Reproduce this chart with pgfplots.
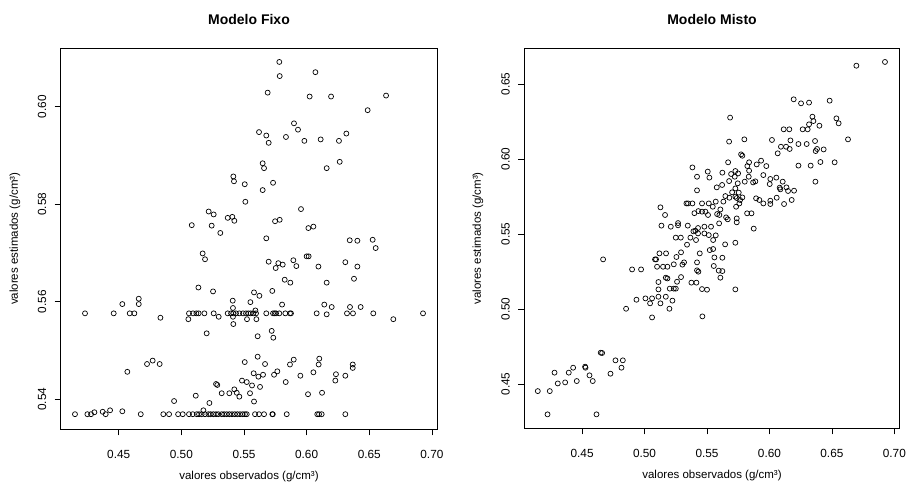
\documentclass[border=0pt]{standalone}
\usepackage{fontspec}
\setmainfont{Liberation Sans}
\usepackage{pgfplots}
\pgfplotsset{compat=1.18}
\pgfplotsset{rstyle/.style={
  scale only axis, anchor=south west,
  axis line style={black, line width=0.7pt},
  tick align=outside, major tick length=6pt,
  tick style={black, line width=0.7pt},
  xtick={0.45,0.50,0.55,0.60,0.65,0.70},
  xticklabels={0.45,0.50,0.55,0.60,0.65,0.70},
  xtick pos=bottom, ytick pos=left,
  tick label style={font=\fontsize{11.8}{13}\selectfont},
  yticklabel style={rotate=90, anchor=south},
  xticklabel shift=11pt, yticklabel shift=5pt,
  label style={font=\fontsize{11.5}{13}\selectfont},
  title style={font=\bfseries\fontsize{14}{16}\selectfont, at={(axis description cs:0.5,1)}, anchor=center, yshift=23pt},
  xlabel={valores observados (g/cm³)},
  ylabel={valores estimados (g/cm³)},
  xlabel style={at={(axis description cs:0.5,-0.125)}, anchor=center},
  xmin=0.4037, xmax=0.7043,
}}
\begin{document}
\begin{tikzpicture}[x=1pt,y=1pt]
\path[use as bounding box, fill=white] (0,0) rectangle (908,488);
\begin{axis}[rstyle, at={(60.7pt,58.7pt)}, width=376.6pt, height=381pt,
  ymin=0.5338, ymax=0.6120,
  ytick={0.54,0.56,0.58,0.60}, yticklabels={0.54,0.56,0.58,0.60},
  ylabel style={at={(axis description cs:-0.1213,0.5)}, rotate=0, anchor=center},
  title={Modelo Fixo}]
\addplot[only marks, mark=o, mark size=2.5pt, mark options={line width=0.7pt, black}] coordinates {
(0.5782,0.6092) (0.5785,0.6063) (0.6070,0.6071) (0.5689,0.6029) (0.6024,0.6021) (0.6195,0.6021) (0.6634,0.6023) (0.6487,0.5993) (0.5899,0.5966) (0.5931,0.5953)
(0.5620,0.5948) (0.5678,0.5941) (0.5697,0.5926) (0.5835,0.5938) (0.5982,0.5930) (0.6112,0.5933) (0.6258,0.5930) (0.6317,0.5945) (0.6264,0.5887) (0.6160,0.5874)
(0.5649,0.5884) (0.5660,0.5874) (0.5415,0.5857) (0.5420,0.5847) (0.5506,0.5841) (0.5732,0.5844) (0.5649,0.5829) (0.5511,0.5805) (0.5955,0.5790) (0.5218,0.5785)
(0.5258,0.5779) (0.5370,0.5772) (0.5407,0.5774) (0.5423,0.5766) (0.5748,0.5765) (0.5785,0.5768) (0.5083,0.5757) (0.5242,0.5756) (0.5311,0.5741) (0.6014,0.5751)
(0.6054,0.5754) (0.5678,0.5730) (0.6344,0.5726) (0.6405,0.5725) (0.6527,0.5727) (0.6551,0.5710) (0.5170,0.5699) (0.5189,0.5687) (0.6000,0.5693) (0.6016,0.5693)
(0.5697,0.5682) (0.5894,0.5685) (0.5774,0.5679) (0.5809,0.5676) (0.5918,0.5673) (0.5753,0.5669) (0.6094,0.5672) (0.6309,0.5681) (0.6405,0.5672) (0.6378,0.5647)
(0.5825,0.5645) (0.5870,0.5639) (0.6160,0.5639) (0.5136,0.5629) (0.5253,0.5621) (0.5580,0.5619) (0.5726,0.5622) (0.5623,0.5612) (0.5551,0.5599) (0.5410,0.5602)
(0.4660,0.5606) (0.4660,0.5595) (0.4529,0.5595) (0.5804,0.5594) (0.6141,0.5594) (0.6200,0.5589) (0.6346,0.5589) (0.6431,0.5589) (0.5591,0.5582) (0.5412,0.5587)
(0.4231,0.5576) (0.4460,0.5576) (0.4588,0.5576) (0.4625,0.5576) (0.5061,0.5576) (0.5093,0.5576) (0.5120,0.5576) (0.5138,0.5576) (0.5184,0.5576) (0.5258,0.5576)
(0.5370,0.5576) (0.5397,0.5576) (0.5415,0.5576) (0.5436,0.5576) (0.5463,0.5576) (0.5492,0.5576) (0.5516,0.5576) (0.5535,0.5576) (0.5553,0.5576) (0.5575,0.5576)
(0.5596,0.5576) (0.5678,0.5576) (0.5732,0.5576) (0.5745,0.5576) (0.5756,0.5576) (0.5782,0.5576) (0.5830,0.5576) (0.5867,0.5576) (0.5875,0.5576) (0.6080,0.5576)
(0.6322,0.5576) (0.6370,0.5576) (0.6532,0.5576) (0.6929,0.5576)
(0.4833,0.5567) (0.5056,0.5564) (0.5298,0.5569) (0.5524,0.5564) (0.5599,0.5564) (0.6692,0.5564) (0.6160,0.5574) (0.5415,0.5554) (0.5412,0.5569)
(0.5202,0.5535) (0.5609,0.5529) (0.5721,0.5540) (0.5734,0.5526)
(0.4726,0.5472) (0.4771,0.5479) (0.4827,0.5472) (0.4569,0.5456) (0.5506,0.5476) (0.5609,0.5487) (0.5668,0.5472) (0.5897,0.5481) (0.5867,0.5471) (0.6101,0.5483)
(0.6096,0.5471) (0.6368,0.5471) (0.6368,0.5464) (0.5766,0.5457) (0.5740,0.5450) (0.5577,0.5453) (0.5615,0.5446) (0.5652,0.5450) (0.5950,0.5448) (0.6054,0.5455)
(0.6234,0.5451) (0.6309,0.5448) (0.6229,0.5438) (0.5484,0.5438) (0.5522,0.5435) (0.5564,0.5428) (0.5628,0.5425) (0.5833,0.5435) (0.5277,0.5431) (0.5287,0.5429)
(0.5322,0.5412) (0.5383,0.5412) (0.5423,0.5420) (0.5442,0.5413) (0.5463,0.5405) (0.5548,0.5412) (0.6123,0.5413) (0.6011,0.5410) (0.5115,0.5407) (0.4942,0.5396)
(0.5224,0.5392) (0.5580,0.5395) (0.5176,0.5377)
(0.4151,0.5369) (0.4250,0.5369) (0.4279,0.5369) (0.4306,0.5373) (0.4372,0.5374) (0.4396,0.5369) (0.4431,0.5377) (0.4529,0.5375) (0.4676,0.5369) (0.4856,0.5369)
(0.4902,0.5369) (0.4974,0.5369) (0.5011,0.5369) (0.5061,0.5369) (0.5091,0.5369) (0.5123,0.5369) (0.5141,0.5369) (0.5162,0.5369) (0.5189,0.5369) (0.5216,0.5369)
(0.5234,0.5369) (0.5256,0.5369) (0.5277,0.5369) (0.5295,0.5369) (0.5322,0.5369) (0.5341,0.5369) (0.5362,0.5369) (0.5383,0.5369) (0.5404,0.5369) (0.5426,0.5369)
(0.5447,0.5369) (0.5468,0.5369) (0.5490,0.5369) (0.5508,0.5369) (0.5522,0.5369) (0.5588,0.5369) (0.5620,0.5369) (0.5660,0.5369) (0.5726,0.5369) (0.5730,0.5369)
(0.5841,0.5369) (0.6085,0.5369) (0.6099,0.5369) (0.6120,0.5369) (0.6309,0.5369)
};
\end{axis}
\begin{axis}[rstyle, at={(524.3pt,59.7pt)}, width=375.4pt, height=380pt,
  ymin=0.4205, ymax=0.6738,
  ytick={0.45,0.50,0.55,0.60,0.65}, yticklabels={0.45,0.50,0.55,0.60,0.65},
  ylabel style={at={(axis description cs:-0.1233,0.5)}, rotate=0, anchor=center},
  title={Modelo Misto}]
\addplot[only marks, mark=o, mark size=2.5pt, mark options={line width=0.7pt, black}] coordinates {
(0.4145,0.4453) (0.4241,0.4453) (0.4223,0.4298) (0.4615,0.4298) (0.4279,0.4576) (0.4305,0.4504) (0.4364,0.4511) (0.4393,0.4576) (0.4428,0.4609) (0.4457,0.4520)
(0.4524,0.4616) (0.4527,0.4609) (0.4559,0.4558) (0.4585,0.4520) (0.4649,0.4709) (0.4660,0.4707) (0.4727,0.4569) (0.4767,0.4658) (0.4826,0.4658) (0.4815,0.4609)
(0.4668,0.5331) (0.4852,0.5002) (0.4900,0.5264) (0.4972,0.5264) (0.4935,0.5062) (0.5007,0.5071) (0.5044,0.5038) (0.5060,0.5071) (0.5060,0.4944) (0.5084,0.5331)
(0.5092,0.5331) (0.5100,0.5282) (0.5111,0.5180) (0.5111,0.5131) (0.5111,0.5082) (0.5119,0.5371) (0.5127,0.5038) (0.5127,0.5678) (0.5135,0.5556) (0.5148,0.5282)
(0.5164,0.5627) (0.5170,0.5082) (0.5172,0.5371) (0.5170,0.5209) (0.5183,0.5282) (0.5183,0.5204) (0.5199,0.5002) (0.5202,0.5136) (0.5210,0.5549) (0.5223,0.5056)
(0.5234,0.5136) (0.5234,0.5298) (0.5250,0.5136) (0.5250,0.5476) (0.5255,0.5347) (0.5260,0.5182) (0.5268,0.5558) (0.5268,0.5573) (0.5290,0.5476) (0.5292,0.5378)
(0.5292,0.5213) (0.5303,0.5296) (0.5316,0.5311) (0.5335,0.5704) (0.5348,0.5704) (0.5340,0.5429) (0.5346,0.5556) (0.5367,0.5476) (0.5375,0.5176) (0.5383,0.5704)
(0.5383,0.5944) (0.5391,0.5518) (0.5399,0.5639) (0.5407,0.5522) (0.5412,0.5460) (0.5415,0.5176) (0.5420,0.5791) (0.5420,0.5882) (0.5420,0.5311) (0.5420,0.5258)
(0.5431,0.5249) (0.5428,0.5540) (0.5428,0.5504) (0.5431,0.5653) (0.5442,0.5371) (0.5460,0.5133) (0.5463,0.4951) (0.5460,0.5649) (0.5460,0.5704) (0.5479,0.5549)
(0.5479,0.5504) (0.5487,0.5649) (0.5500,0.5129) (0.5506,0.5916) (0.5514,0.5704) (0.5508,0.5627) (0.5514,0.5493) (0.5519,0.5876) (0.5522,0.5393) (0.5532,0.5549)
(0.5546,0.5682) (0.5549,0.5460) (0.5549,0.5400) (0.5554,0.5287) (0.5559,0.5344) (0.5570,0.5491) (0.5570,0.5716) (0.5578,0.5811) (0.5581,0.5633) (0.5594,0.5256)
(0.5597,0.5571) (0.5599,0.5627) (0.5607,0.5209) (0.5607,0.5664) (0.5621,0.5827) (0.5623,0.5909) (0.5623,0.5342) (0.5623,0.5253) (0.5631,0.5716) (0.5645,0.5431)
(0.5647,0.5753) (0.5653,0.5611) (0.5666,0.5598) (0.5679,0.5742) (0.5669,0.5978) (0.5677,0.5853) (0.5677,0.6116) (0.5685,0.6276) (0.5693,0.5900) (0.5701,0.5778)
(0.5722,0.5882) (0.5727,0.5442) (0.5727,0.5131) (0.5727,0.5920) (0.5727,0.5804) (0.5727,0.5749) (0.5733,0.5682) (0.5738,0.5740) (0.5738,0.5604) (0.5738,0.5578)
(0.5746,0.5838) (0.5749,0.5904) (0.5754,0.5776) (0.5759,0.5704) (0.5765,0.5727) (0.5773,0.6031) (0.5783,0.6022) (0.5783,0.5744) (0.5799,0.6131) (0.5802,0.5849)
(0.5821,0.5638) (0.5823,0.5953) (0.5834,0.5882) (0.5837,0.5922) (0.5837,0.5978) (0.5856,0.5638) (0.5869,0.5844) (0.5874,0.5536) (0.5887,0.5851) (0.5893,0.5738)
(0.5898,0.5964) (0.5919,0.5727) (0.5933,0.5989) (0.5951,0.5893) (0.5951,0.5704) (0.5975,0.5953) (0.6002,0.5833) (0.6007,0.5867) (0.6007,0.5722) (0.6007,0.5700)
(0.6020,0.6127) (0.6055,0.5876) (0.6058,0.5742) (0.6066,0.6038) (0.6082,0.5809) (0.6087,0.5798) (0.6092,0.6082) (0.6106,0.5849) (0.6114,0.6198) (0.6117,0.5700)
(0.6133,0.6082) (0.6136,0.5811) (0.6149,0.5787) (0.6159,0.6198) (0.6162,0.6067) (0.6168,0.6124) (0.6178,0.5727) (0.6194,0.6398) (0.6197,0.5789) (0.6232,0.5956)
(0.6232,0.6100) (0.6253,0.6371) (0.6266,0.6198) (0.6298,0.6100) (0.6306,0.6198) (0.6317,0.6376) (0.6317,0.6231) (0.6330,0.5956) (0.6344,0.6282) (0.6352,0.6253)
(0.6365,0.6120) (0.6370,0.6053) (0.6368,0.5849) (0.6381,0.6067) (0.6400,0.6222) (0.6408,0.5980) (0.6434,0.6064) (0.6482,0.6389) (0.6522,0.5978) (0.6536,0.6271)
(0.6554,0.6238) (0.6629,0.6131) (0.6696,0.6622) (0.6925,0.6647)
};
\end{axis}
\end{tikzpicture}
\end{document}
